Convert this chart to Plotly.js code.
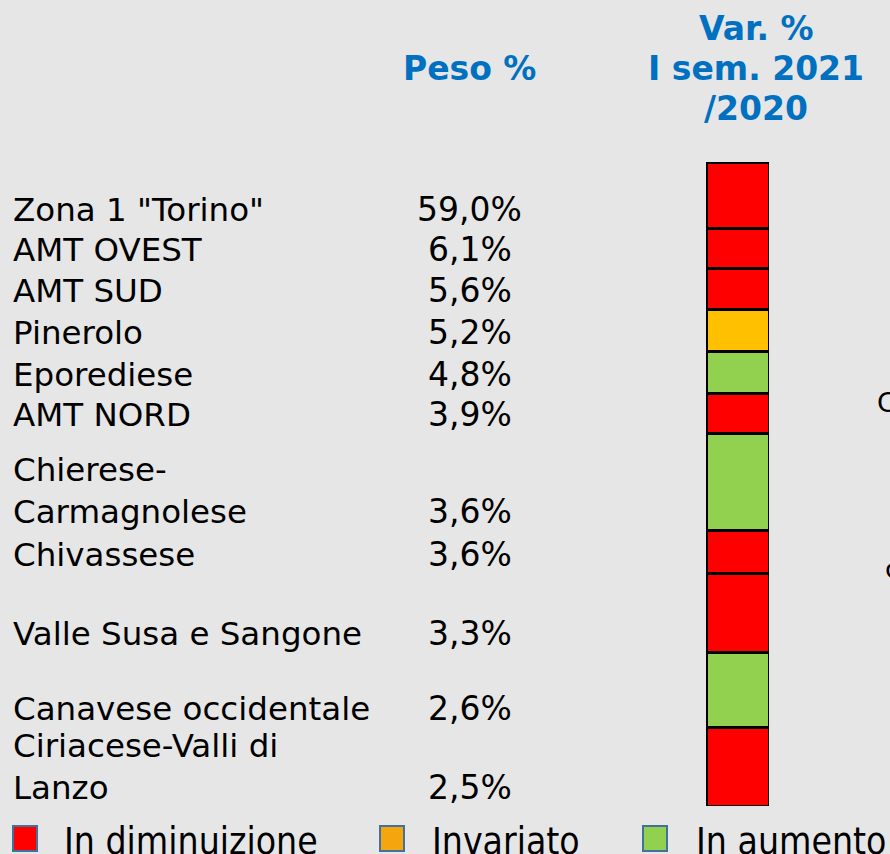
<!DOCTYPE html>
<html>
<head>
<meta charset="utf-8">
<script src="https://cdn.plot.ly/plotly-3.0.1.min.js"></script>
<style>html,body{margin:0;padding:0;background:#E6E6E6;}#chart{width:890px;height:854px;}</style>
</head>
<body>
<div id="chart"></div>
<script>
// ---- data ----
const zones = ['Zona 1 "Torino"', 'AMT OVEST', 'AMT SUD', 'Pinerolo', 'Eporediese', 'AMT NORD',
  'Chierese-<br>Carmagnolese', 'Chivassese', 'Valle Susa e Sangone', 'Canavese occidentale',
  'Ciriacese-Valli di<br>Lanzo'];
const peso = [59.0, 6.1, 5.6, 5.2, 4.8, 3.9, 3.6, 3.6, 3.3, 2.6, 2.5];
const trend = ['dim', 'dim', 'dim', 'inv', 'aum', 'dim', 'aum', 'dim', 'dim', 'aum', 'dim'];
const rowSpan = [66, 40, 41, 42, 42, 40, 97, 43, 79, 75, 79];   // table row heights
const headerLines = ['Var. %', 'I sem. 2021', '/2020'];
const legendKeys = ['dim', 'inv', 'aum'];
const legendLabels = ['In diminuizione', 'Invariato', 'In aumento'];

// ---- styles ----
const barColors = {dim: '#FF0000', inv: '#FFC000', aum: '#92D050'};
const legColors = {dim: '#FF0000', inv: '#F5A50E', aum: '#92D050'};
const W = 890, H = 854;
const FONT = 'DejaVu Sans, Verdana, sans-serif';
const BLUE = '#0070C0';

const total = rowSpan.reduce((a, b) => a + b, 0);

const traces = zones.map((z, i) => ({
  type: 'bar',
  x: [0],
  y: [rowSpan[i]],
  width: 1,
  marker: {color: barColors[trend[i]], line: {color: '#000000', width: 3}},
  hoverinfo: 'skip',
  showlegend: false
}));

const annotations = [];
let cum = 0;
zones.forEach((z, i) => {
  cum += rowSpan[i];
  annotations.push({
    xref: 'paper', yref: 'y', x: 11 / W, y: cum, xanchor: 'left', yanchor: 'bottom',
    text: z, showarrow: false, align: 'left', yshift: -3,
    font: {family: FONT, size: 32.5, color: '#000000'}
  });
  annotations.push({
    xref: 'paper', yref: 'y', x: 470 / W, y: cum, xanchor: 'center', yanchor: 'bottom',
    text: peso[i].toFixed(1).replace('.', ',') + '%', showarrow: false, yshift: -3,
    font: {family: FONT, size: 33, color: '#000000'}
  });
});

// headers
annotations.push({
  xref: 'paper', yref: 'paper', x: 470 / W, y: 1 - 69 / H, xanchor: 'center', yanchor: 'middle',
  text: '<b>Peso %</b>', showarrow: false, font: {family: FONT, size: 33, color: BLUE}
});
const headerY = [28, 69, 108];
headerLines.forEach((t, i) => {
  annotations.push({
    xref: 'paper', yref: 'paper', x: 756 / W, y: 1 - headerY[i] / H, xanchor: 'center', yanchor: 'middle',
    text: '<b>' + t + '</b>', showarrow: false,
    font: {family: FONT, size: 33, color: BLUE}
  });
});

// clipped text at the right edge
annotations.push({
  xref: 'paper', yref: 'paper', x: 875 / W, y: 1 - 402 / H, xanchor: 'left', yanchor: 'middle',
  text: 'C', showarrow: false, font: {family: FONT, size: 27, color: '#000000'}
});
annotations.push({
  xref: 'paper', yref: 'paper', x: 883 / W, y: 1 - 568 / H, xanchor: 'left', yanchor: 'middle',
  text: 'c', showarrow: false, font: {family: FONT, size: 27, color: '#000000'}
});

// legend
const shapes = [];
const legX = [13, 380, 643];
const legTextX = [62, 430, 694];
legendKeys.forEach((k, i) => {
  shapes.push({
    type: 'rect', xref: 'paper', yref: 'paper',
    x0: legX[i] / W, x1: (legX[i] + 24) / W, y0: 1 - 851 / H, y1: 1 - 826 / H,
    fillcolor: legColors[k], line: {color: '#41719C', width: 2}
  });
  annotations.push({
    xref: 'paper', yref: 'paper', x: legTextX[i] / W, y: 1 - 841 / H, xanchor: 'left', yanchor: 'middle',
    text: legendLabels[i], showarrow: false,
    font: {family: 'DejaVu Sans Condensed, DejaVu Sans, sans-serif', size: 37, color: '#000000'}
  });
});

const layout = {
  width: W, height: H,
  margin: {l: 0, r: 0, t: 0, b: 0},
  paper_bgcolor: '#E6E6E6', plot_bgcolor: 'rgba(0,0,0,0)',
  barmode: 'stack',
  xaxis: {domain: [706 / W, 769 / W], range: [-0.5, 0.5], visible: false, fixedrange: true},
  yaxis: {domain: [1 - 806 / H, 1 - 162 / H], range: [total, 0], visible: false, fixedrange: true},
  annotations: annotations,
  shapes: shapes,
  showlegend: false
};

Plotly.newPlot('chart', traces, layout, {displayModeBar: false, staticPlot: true});
</script>
</body>
</html>
